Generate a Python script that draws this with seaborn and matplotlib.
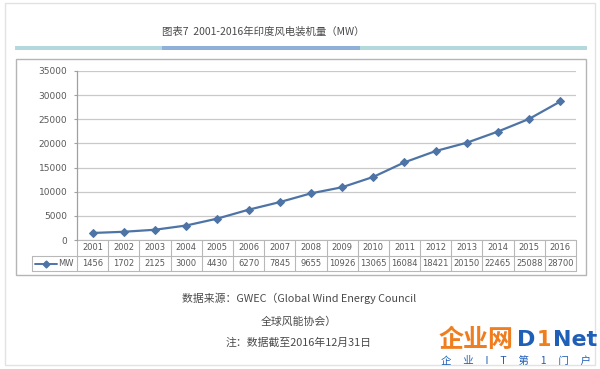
import matplotlib
matplotlib.use("Agg")
import matplotlib.pyplot as plt
import matplotlib.patches as mpatches
from matplotlib.lines import Line2D
import seaborn as sns
import pandas as pd

years = [2001, 2002, 2003, 2004, 2005, 2006, 2007, 2008,
         2009, 2010, 2011, 2012, 2013, 2014, 2015, 2016]
mw = [1456, 1702, 2125, 3000, 4430, 6270, 7845, 9655,
      10926, 13065, 16084, 18421, 20150, 22465, 25088, 28700]
series_name = "MW"
title = "图表7  2001-2016年印度风电装机量（MW）"
footer = ["数据来源：GWEC（Global Wind Energy Council",
          "全球风能协会）",
          "注：数据截至2016年12月31日"]
yticks = [0, 5000, 10000, 15000, 20000, 25000, 30000, 35000]

sns.set_theme(style="white")
plt.rcParams['font.family'] = ['Noto Sans CJK SC', 'DejaVu Sans']

W, H = 600, 369
fig = plt.figure(figsize=(6, 3.69), dpi=100)
fig.patch.set_facecolor("white")

def fx(x):
    return x / W

def fy(y):
    return 1 - y / H

def rect(x0, y0, x1, y1, **kw):
    r = mpatches.Rectangle((fx(x0), fy(y1)), fx(x1) - fx(x0), fy(y0) - fy(y1),
                           transform=fig.transFigure, **kw)
    fig.patches.append(r)

# outer card
rect(5, 3, 595, 365, facecolor="none", edgecolor="#e2e2e2", linewidth=1.0)
# header bar
rect(15, 46, 587, 49.5, facecolor="#b4d9dc", edgecolor="none")
rect(162, 46, 360, 49.5, facecolor="#8eb0d9", edgecolor="none")
# chart box
rect(16, 59, 586, 275, facecolor="none", edgecolor="#b5b5b5", linewidth=1.0)

fig.text(fx(263), fy(32), title, ha="center", va="center", fontsize=7.5, color="#4a4a4a")

# plot area
L, R, T, B = 77, 576, 71, 240
ax = fig.add_axes([fx(L), fy(B), fx(R) - fx(L), fy(T) - fy(B)])
ax.set_facecolor("none")

df = pd.DataFrame({"year": years, "MW": mw})
line_color = "#4e74a6"
sns.lineplot(data=df, x="year", y="MW", ax=ax, color=line_color, linewidth=1.6,
             marker="D", markersize=4.2, markeredgecolor=line_color,
             markerfacecolor=line_color)

ax.set_xlim(years[0] - 0.5, years[-1] + 0.5)
ax.set_ylim(0, 35000)
ax.set_yticks(yticks)
ax.set_yticklabels([str(v) for v in yticks], fontsize=6.5, color="#595959",
                   family=["DejaVu Sans"])
ax.set_xticks([])
ax.set_xlabel("")
ax.set_ylabel("")
ax.tick_params(axis="y", length=2, width=0.8, color="#a0a0a0", pad=5, left=True)
for s in ["top", "right", "bottom"]:
    ax.spines[s].set_visible(False)
ax.spines["left"].set_color("#a0a0a0")
ax.spines["left"].set_linewidth(0.9)
ax.yaxis.grid(True, color="#c9c9c9", linewidth=0.9)
ax.set_axisbelow(True)

# data table below the axis
tx = ax.get_xaxis_transform()
r1 = -16 / (B - T)
r2 = -31 / (B - T)
leg_left = (32 - L) / (R - L)
grid_c = "#b8b8b8"
x0, x1 = years[0] - 0.5, years[-1] + 0.5
ax.add_line(Line2D([x0, x1], [0, 0], transform=tx, color=grid_c, lw=0.8, clip_on=False))
ax.add_line(Line2D([leg_left, 1], [r1, r1], transform=ax.transAxes, color=grid_c, lw=0.8, clip_on=False))
ax.add_line(Line2D([leg_left, 1], [r2, r2], transform=ax.transAxes, color=grid_c, lw=0.8, clip_on=False))
ax.add_line(Line2D([leg_left, leg_left], [r1, r2], transform=ax.transAxes, color=grid_c, lw=0.8, clip_on=False))
for k in range(len(years) + 1):
    xb = years[0] - 0.5 + k
    ax.add_line(Line2D([xb, xb], [0, r2], transform=tx, color=grid_c, lw=0.8, clip_on=False))
for yr, v in zip(years, mw):
    ax.text(yr, r1 / 2, str(yr), transform=tx, ha="center", va="center",
            fontsize=6, color="#595959", family=["DejaVu Sans"], clip_on=False)
    ax.text(yr, (r1 + r2) / 2, str(v), transform=tx, ha="center", va="center",
            fontsize=6, color="#595959", family=["DejaVu Sans"], clip_on=False)
# legend key in table
ym = (r1 + r2) / 2
lx0 = leg_left + 0.006
lx1 = leg_left + 0.05
ax.add_line(Line2D([lx0, lx1], [ym, ym], transform=ax.transAxes, color=line_color, lw=1.4, clip_on=False))
ax.add_line(Line2D([(lx0 + lx1) / 2], [ym], transform=ax.transAxes, color=line_color,
                   marker="D", markersize=3.5, lw=0, clip_on=False))
ax.text(lx1 + 0.003, ym, series_name, transform=ax.transAxes, ha="left", va="center",
        fontsize=6, color="#595959", family=["DejaVu Sans"], clip_on=False)

# footer
for txt, yy in zip(footer, [298, 322, 343]):
    fig.text(fx(299), fy(yy), txt, ha="center", va="center", fontsize=7.8, color="#4a4a4a")

# watermark
fig.text(fx(439), fy(340), "企业网", ha="left", va="center", fontsize=18, color="#f07d1e",
         fontweight="bold")
fig.text(fx(517), fy(340), "D", ha="left", va="center", fontsize=16, color="#1f5fb8",
         fontweight="bold", family=["DejaVu Sans"])
fig.text(fx(537), fy(340), "1", ha="left", va="center", fontsize=15, color="#f07d1e",
         fontweight="bold", family=["DejaVu Sans"])
fig.text(fx(553), fy(340), "Net", ha="left", va="center", fontsize=16, color="#1f5fb8",
         fontweight="bold", family=["DejaVu Sans"])
fig.text(fx(516), fy(361), "企     业     I     T     第     1     门     户",
         ha="center", va="center", fontsize=7.5, color="#1f5fb8")

fig.savefig("out.png", dpi=100, facecolor="white")
